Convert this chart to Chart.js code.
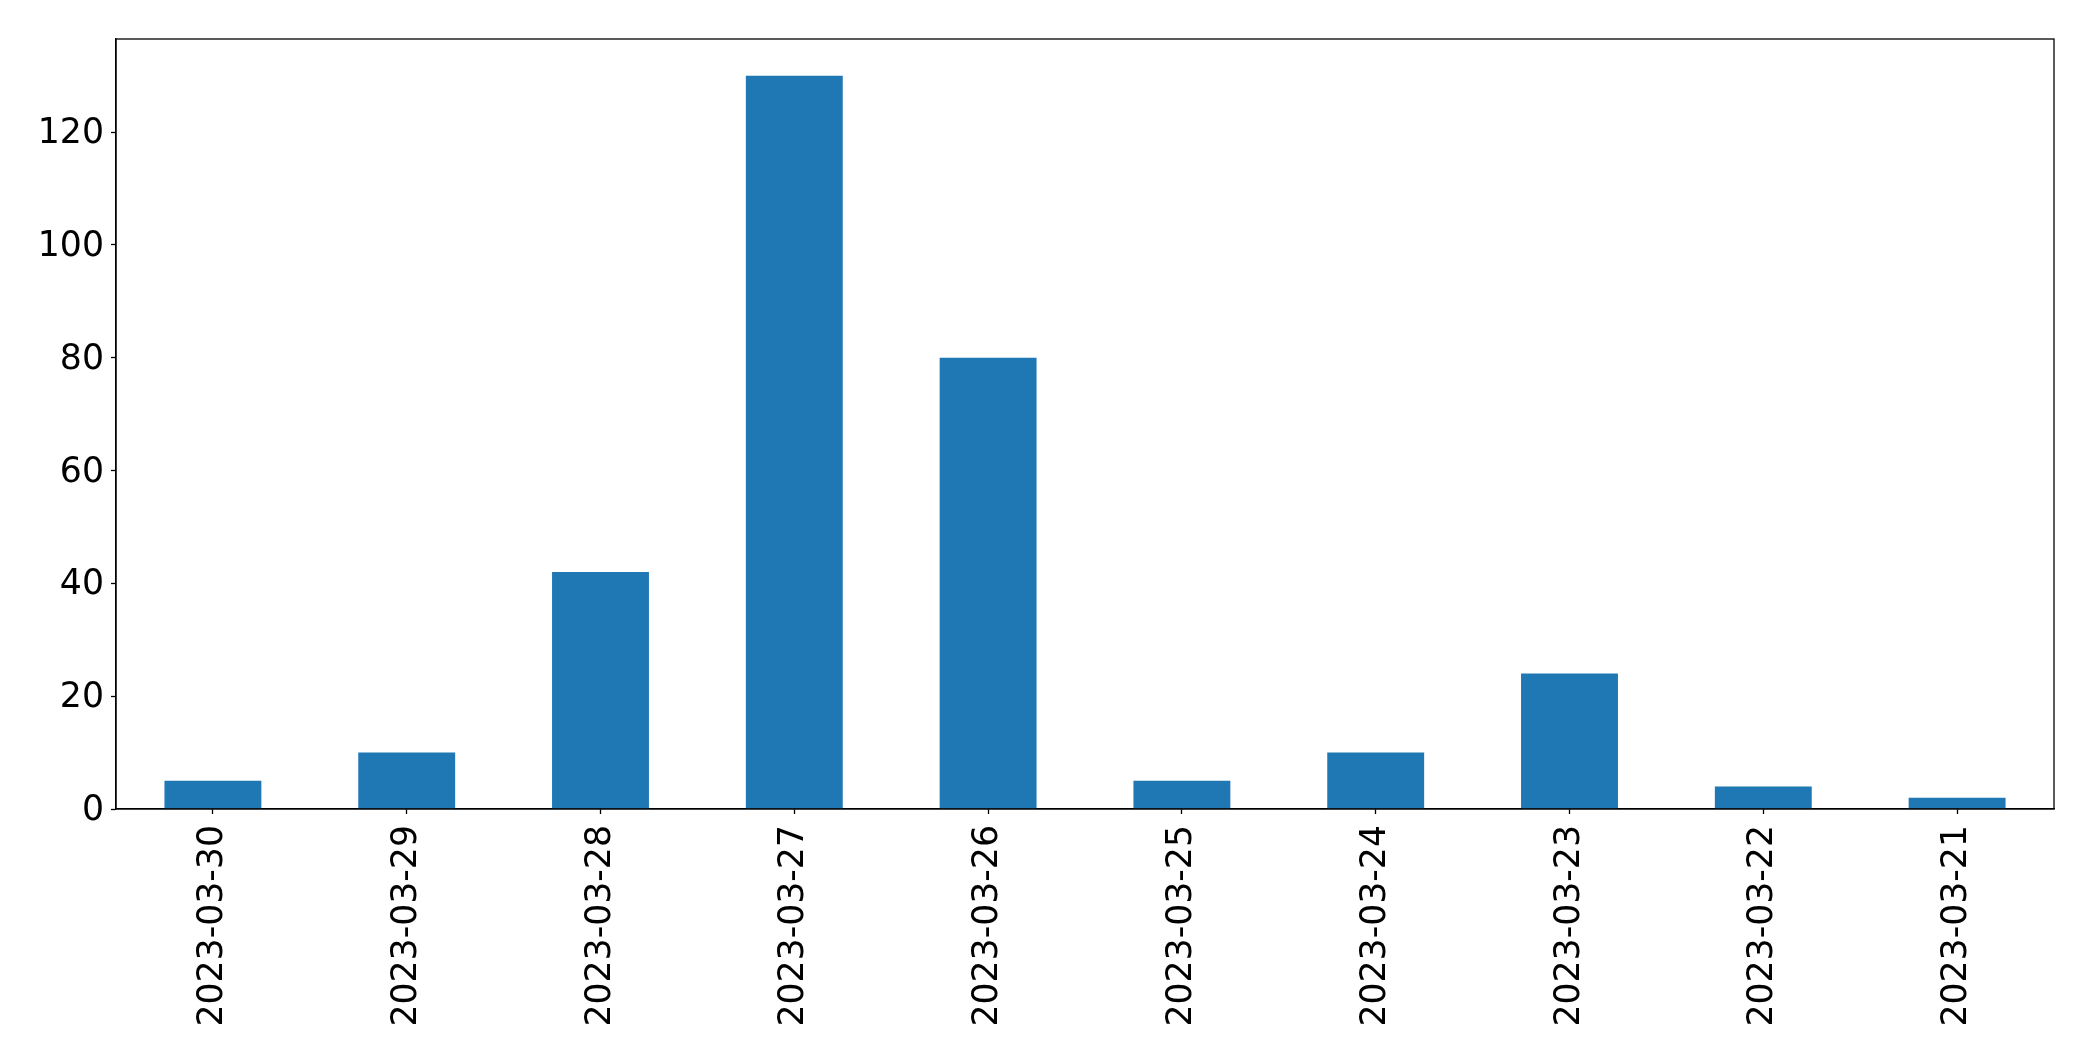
<!DOCTYPE html>
<html>
<head>
<meta charset="utf-8">
<script src="https://cdn.jsdelivr.net/npm/chart.js@4/dist/chart.umd.min.js"></script>
<style>
html,body{margin:0;padding:0;background:#fff;}
#wrap{width:2093px;height:1061px;}
</style>
</head>
<body>
<div id="wrap"><canvas id="c" width="2093" height="1061"></canvas></div>
<script>
const categories = ["2023-03-30","2023-03-29","2023-03-28","2023-03-27","2023-03-26","2023-03-25","2023-03-24","2023-03-23","2023-03-22","2023-03-21"];
const counts = [5, 10, 42, 130, 80, 5, 10, 24, 4, 2];
const yTicks = [0, 20, 40, 60, 80, 100, 120];

const frame = {
  id: 'frame',
  afterDraw(chart) {
    const {ctx, chartArea: a} = chart;
    ctx.save();
    ctx.strokeStyle = '#000';
    ctx.lineWidth = 1.3;
    ctx.strokeRect(a.left, a.top, a.right - a.left, a.bottom - a.top);
    ctx.restore();
  }
};

new Chart(document.getElementById('c'), {
  type: 'bar',
  data: {
    labels: categories,
    datasets: [{
      data: counts,
      backgroundColor: '#1f77b4',
      borderWidth: 0,
      barPercentage: 0.5,
      categoryPercentage: 1.0
    }]
  },
  options: {
    responsive: false,
    animation: false,
    devicePixelRatio: 1,
    layout: { padding: { top: 39, right: 39, left: 0, bottom: 0 } },
    plugins: { legend: { display: false }, tooltip: { enabled: false } },
    scales: {
      x: {
        grid: { display: true, offset: false, drawOnChartArea: false, drawTicks: true, tickLength: 5, tickColor: '#000', tickWidth: 1.3 },
        border: { display: true, color: '#000', width: 1.3 },
        ticks: {
          color: '#000',
          font: { family: 'DejaVu Sans', size: 34.7 },
          minRotation: 90, maxRotation: 90,
          padding: 11,
          autoSkip: false
        },
        afterFit(s) { s.height = 1061 - 809; }
      },
      y: {
        min: 0,
        max: 136.5,
        grid: { display: true, drawOnChartArea: false, drawTicks: true, tickLength: 5, tickColor: '#000', tickWidth: 1.3 },
        border: { display: true, color: '#000', width: 1.3 },
        ticks: {
          color: '#000',
          font: { family: 'DejaVu Sans', size: 34.7 },
          padding: 7,
          labelOffset: 2
        },
        afterBuildTicks(s) { s.ticks = yTicks.map(v => ({ value: v })); },
        afterFit(s) { s.width = 116; }
      }
    }
  },
  plugins: [frame]
});
</script>
</body>
</html>
